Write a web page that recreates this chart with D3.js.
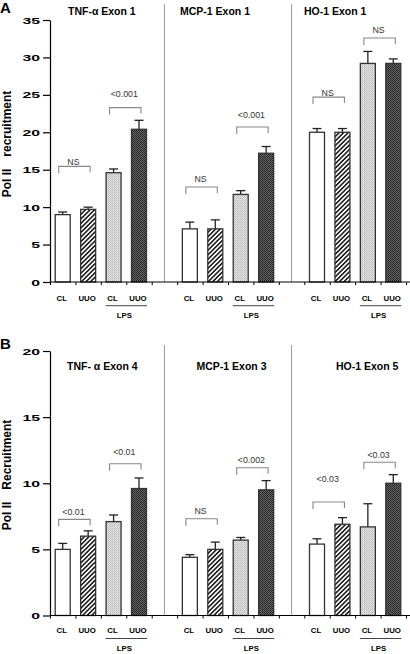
<!DOCTYPE html>
<html><head><meta charset="utf-8">
<script src="https://cdn.jsdelivr.net/npm/d3@7"></script>
<style>body{margin:0;background:#fff}text{font-family:"Liberation Sans",Arial,sans-serif}</style>
</head><body>
<script>
// ---------- data ----------
const groups = ["CL", "UUO", "CL", "UUO"];
const groupLabel = "LPS";
const topTitles = ["TNF-\u03b1 Exon 1", "MCP-1 Exon 1", "HO-1 Exon 1"];
const botTitles = ["TNF- \u03b1 Exon 4", "MCP-1 Exon 3", "HO-1 Exon 5"];
const topMeans = [[9.0, 9.7, 14.6, 20.4], [7.1, 7.1, 11.7, 17.2], [20.0, 20.0, 29.2, 29.2]];
const topErrs  = [[0.35, 0.3, 0.5, 1.2], [0.9, 1.2, 0.5, 0.9], [0.5, 0.5, 1.6, 0.6]];
const botMeans = [[5.0, 6.0, 7.1, 9.6], [4.4, 5.0, 5.7, 9.5], [5.4, 6.9, 6.7, 10.0]];
const botErrs  = [[0.45, 0.4, 0.5, 0.8], [0.2, 0.55, 0.2, 0.7], [0.4, 0.5, 1.75, 0.65]];
const topTicks = [0, 5, 10, 15, 20, 25, 30, 35];
const botTicks = [0, 5, 10, 15, 20];
// brackets: panel, from bar, to bar, level (data units), label, label level (data units)
const topBrackets = [
  [0, 0, 1, 15.45, "NS", 15.98], [0, 2, 3, 23.3, "<0.001", 25.06],
  [1, 0, 1, 12.7, "NS", 13.71], [1, 2, 3, 20.7, "<0.001", 22.35],
  [2, 0, 1, 24.7, "NS", 25.23], [2, 2, 3, 32.6, "NS", 33.67]];
const botBrackets = [
  [0, 0, 1, 7.27, "<0.01", 7.85], [0, 2, 3, 11.47, "<0.01", 12.34],
  [1, 0, 1, 7.32, "NS", 7.9], [1, 2, 3, 11.17, "<0.002", 11.8],
  [2, 0, 1, 8.58, "<0.03", 10.34], [2, 2, 3, 11.59, "<0.03", 12.17]];

// ---------- layout ----------
const W = 410, H = 654;
const svg = d3.select("body").append("svg").attr("width", W).attr("height", H);
const defs = svg.append("defs");
// patterns
const ph = defs.append("pattern").attr("id", "hatch").attr("patternUnits", "userSpaceOnUse")
  .attr("width", 3.2).attr("height", 3.2).attr("patternTransform", "rotate(45)");
ph.append("rect").attr("width", 3.2).attr("height", 3.2).attr("fill", "#fff");
ph.append("line").attr("x1", 0.8).attr("x2", 0.8).attr("y1", 0).attr("y2", 3.2).attr("stroke", "#111").attr("stroke-width", 1.5);
const pl = defs.append("pattern").attr("id", "light").attr("patternUnits", "userSpaceOnUse").attr("width", 2).attr("height", 2);
pl.append("rect").attr("width", 2).attr("height", 2).attr("fill", "#e4e4e4");
pl.append("rect").attr("width", 1).attr("height", 1).attr("fill", "#b8b8b8");
pl.append("rect").attr("x", 1).attr("y", 1).attr("width", 1).attr("height", 1).attr("fill", "#c8c8c8");
const pd = defs.append("pattern").attr("id", "dark").attr("patternUnits", "userSpaceOnUse").attr("width", 2).attr("height", 2);
pd.append("rect").attr("width", 2).attr("height", 2).attr("fill", "#666");
pd.append("rect").attr("width", 1).attr("height", 1).attr("fill", "#222");
pd.append("rect").attr("x", 1).attr("y", 1).attr("width", 1).attr("height", 1).attr("fill", "#2c2c2c");
const fills = ["#fff", "url(#hatch)", "url(#light)", "url(#dark)"];

const slots = d3.range(14);
const x = d3.scaleBand().domain(slots).range([50, 406]).padding(0);
const xl = d3.scaleLinear().domain([0, 14]).range([50, 406]);
const barW = x.bandwidth() * 0.59;
const slotOf = (p, j) => p * 5 + j;
const cx = (p, j) => x(slotOf(p, j)) + x.bandwidth() / 2;

function panel(cfg) {
  const y = d3.scaleLinear().domain([0, cfg.max]).range(cfg.range);
  const g = svg.append("g");
  // panel letter
  g.append("text").attr("x", 0).attr("y", cfg.letterY).attr("font-size", 15).attr("font-weight", "bold").text(cfg.letter);
  // y label
  const yl = g.append("text").attr("transform", `translate(11,${cfg.labelC}) rotate(-90)`).attr("text-anchor", "middle")
    .attr("font-size", 12).attr("font-weight", "bold");
  yl.append("tspan").text(cfg.ylabel[0]);
  yl.append("tspan").attr("dx", 12).text(cfg.ylabel[1]);
  // dividers
  [4, 9].forEach(s => {
    g.append("line").attr("x1", x(s) + x.bandwidth() / 2).attr("x2", x(s) + x.bandwidth() / 2)
      .attr("y1", cfg.divTop).attr("y2", y(0)).attr("stroke", "#999").attr("stroke-width", 1);
  });
  // titles
  cfg.titles.forEach((t, p) => {
    const c = (cx(p, 0) + cx(p, 3)) / 2 + cfg.titleOff[p];
    g.append("text").attr("x", c).attr("y", cfg.titleY).attr("text-anchor", "middle")
      .attr("font-size", 10.5).attr("font-weight", "bold").text(t);
  });
  // bars
  cfg.means.forEach((arr, p) => {
    arr.forEach((v, j) => {
      const bx = cx(p, j);
      const e = cfg.errs[p][j];
      g.append("line").attr("x1", bx).attr("x2", bx).attr("y1", y(v)).attr("y2", y(v + e)).attr("stroke", "#222").attr("stroke-width", 1.3);
      g.append("line").attr("x1", bx - 4.5).attr("x2", bx + 4.5).attr("y1", y(v + e)).attr("y2", y(v + e)).attr("stroke", "#222").attr("stroke-width", 1.3);
      g.append("rect").attr("x", bx - barW / 2).attr("y", y(v)).attr("width", barW).attr("height", y(0) - y(v))
        .attr("fill", fills[j]).attr("stroke", "#333").attr("stroke-width", 1.3);
    });
  });
  // brackets
  cfg.brackets.forEach(([p, a, b, lv, lab, llv]) => {
    const x1 = cx(p, a) - 4, x2 = cx(p, b) + 2, yy = y(lv);
    g.append("path").attr("d", `M${x1},${yy + 7}V${yy}H${x2}V${yy + 6}`).attr("fill", "none").attr("stroke", "#888").attr("stroke-width", 1.1);
    g.append("text").attr("x", (x1 + x2) / 2 - 1).attr("y", y(llv)).attr("dy", "0.35em").attr("text-anchor", "middle")
      .attr("font-size", 8.8).attr("fill", "#333").text(lab);
  });
  // y axis
  const ya = g.append("g").attr("transform", "translate(50,0)")
    .call(d3.axisLeft(y).tickValues(cfg.ticks).tickSize(7).tickSizeOuter(0));
  ya.select(".domain").attr("stroke", "#000").attr("stroke-width", 1.2);
  ya.selectAll(".tick line").attr("stroke", "#000").attr("stroke-width", 1.2);
  ya.selectAll(".tick text").attr("font-family", "'Liberation Sans',Arial,sans-serif").attr("font-size", 9.5).attr("font-weight", "bold")
    .attr("fill", "#000").attr("x", -10)
    .each(function(d) { const s = String(d); d3.select(this).attr("textLength", 8.8 * s.length).attr("lengthAdjust", "spacingAndGlyphs"); });
  // x axis
  const xa = g.append("g").attr("transform", `translate(0,${y(0)})`)
    .call(d3.axisBottom(xl).ticks(14).tickSize(3).tickSizeOuter(0).tickFormat(""));
  xa.select(".domain").remove();
  xa.selectAll(".tick line").attr("stroke", "#000");
  g.append("line").attr("x1", 50).attr("x2", 410).attr("y1", y(0)).attr("y2", y(0)).attr("stroke", "#000").attr("stroke-width", 1.2);
  // category labels
  for (let p = 0; p < 3; p++) {
    groups.forEach((c, j) => {
      g.append("text").attr("x", cx(p, j) - 1).attr("y", cfg.catY).attr("text-anchor", "middle")
        .attr("font-size", 7.8).attr("font-weight", "bold").text(c);
    });
    const l1 = cx(p, 2) - 8, l2 = cx(p, 3) + 8;
    g.append("line").attr("x1", l1).attr("x2", l2).attr("y1", cfg.lpsLineY).attr("y2", cfg.lpsLineY).attr("stroke", "#444").attr("stroke-width", 1);
    g.append("text").attr("x", (cx(p, 2) + cx(p, 3)) / 2 - 2).attr("y", cfg.lpsY).attr("text-anchor", "middle")
      .attr("font-size", 7.8).attr("font-weight", "bold").text(groupLabel);
  }
}

panel({ max: 35, range: [282, 20], ticks: topTicks, means: topMeans, errs: topErrs, brackets: topBrackets,
  titles: topTitles, titleOff: [1, -13, -20], titleY: 15, letter: "A", letterY: 13,
  ylabel: ["Pol II", "recruitment"], labelC: 144, divTop: 4, catY: 300.5, lpsLineY: 305.7, lpsY: 318 });
panel({ max: 20, range: [615.5, 351], ticks: botTicks, means: botMeans, errs: botErrs, brackets: botBrackets,
  titles: botTitles, titleOff: [1.5, 3.5, 12], titleY: 369.5, letter: "B", letterY: 349,
  ylabel: ["Pol II", "Recruitment"], labelC: 475, divTop: 345, catY: 633, lpsLineY: 638.5, lpsY: 651 });
</script>
</body></html>
